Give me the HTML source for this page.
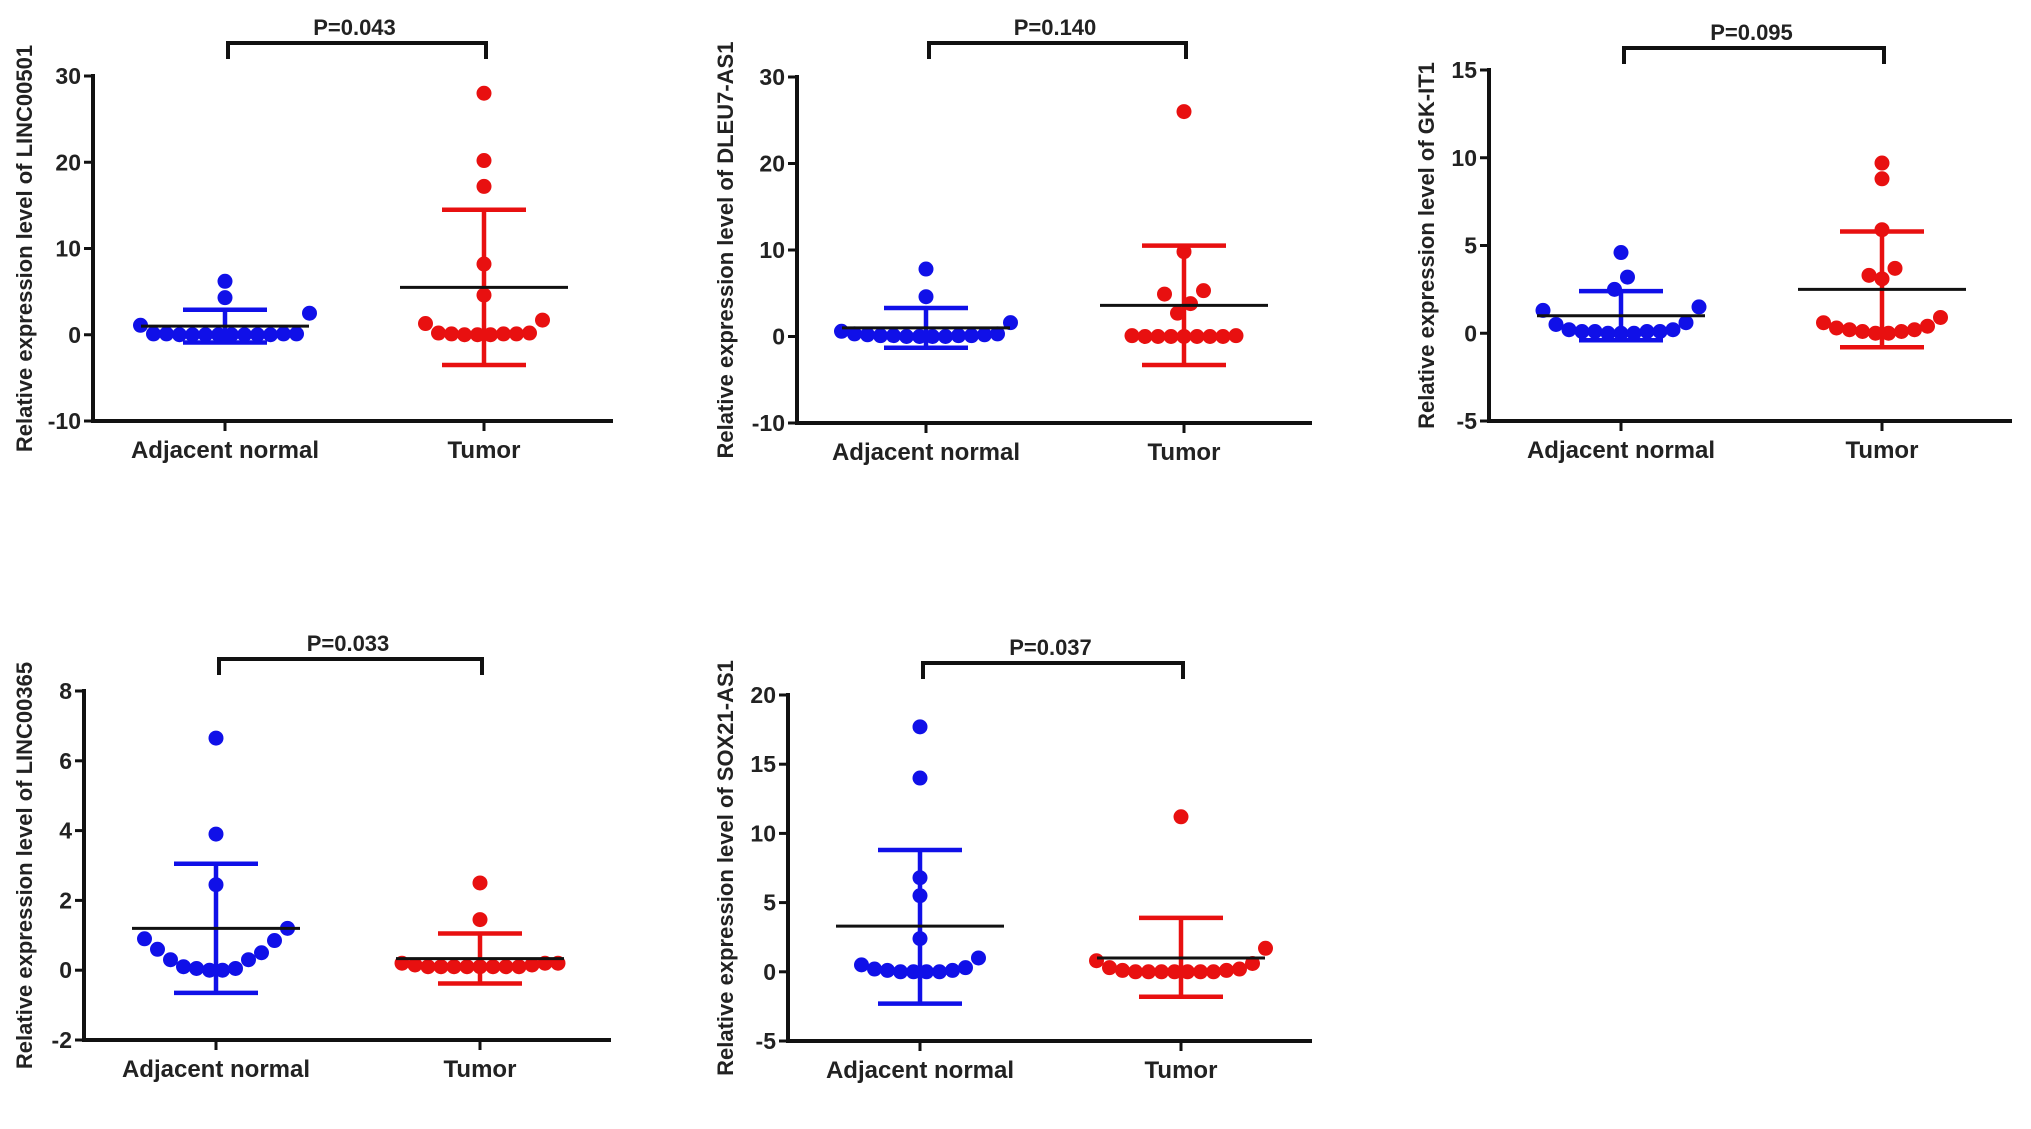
<!DOCTYPE html>
<html><head><meta charset="utf-8"><style>
html,body{margin:0;padding:0;background:#fff;}
svg{display:block;font-family:"Liberation Sans",Arial,sans-serif;font-weight:bold;}
</style></head><body>
<svg id="fig" width="2031" height="1129" viewBox="0 0 2031 1129" xmlns="http://www.w3.org/2000/svg"></svg>
<script>
const categories = ["Adjacent normal", "Tumor"];
// Panel 1: LINC00501
const p1Normal = [6.2,4.3,2.5,1.1,0.1,0.1,0.0,0.0,0.0,0.0,0.0,0.0,0.0,0.0,0.1,0.1];
const p1Tumor = [28,20.2,17.2,8.2,4.6,1.3,1.7,0.2,0.1,0.1,0.0,0.0,0.0,0.1,0.2];
const p1Stats = [1.0,2.9,-0.9, 5.5,14.5,-3.5];
const p1Ticks = [-10,0,10,20,30];
// Panel 2: DLEU7-AS1
const p2Normal = [7.8,4.6,1.6,0.6,0.3,0.2,0.1,0.1,0.0,0.0,0.0,0.0,0.1,0.1,0.2,0.3];
const p2Tumor = [26,9.8,5.3,4.9,3.8,2.7,0.1,0.1,0.0,0.0,0.0,0.0,0.0,0.0,0.0];
const p2Stats = [1.0,3.3,-1.3, 3.6,10.5,-3.3];
const p2Ticks = [-10,0,10,20,30];
// Panel 3: GK-IT1
const p3Normal = [4.6,3.2,2.5,1.5,1.3,0.6,0.5,0.2,0.1,0.1,0.0,0.0,0.0,0.1,0.1,0.2];
const p3Tumor = [9.7,8.8,5.9,3.7,3.3,3.1,0.9,0.6,0.4,0.3,0.2,0.1,0.0,0.0,0.1,0.2];
const p3Stats = [1.0,2.4,-0.4, 2.5,5.8,-0.8];
const p3Ticks = [-5,0,5,10,15];
// Panel 4: LINC00365
const p4Normal = [6.65,3.9,2.45,1.2,0.9,0.85,0.6,0.5,0.3,0.3,0.1,0.05,0.0,0.0,0.05];
const p4Tumor = [2.5,1.45,0.2,0.15,0.1,0.1,0.1,0.1,0.1,0.1,0.1,0.1,0.15,0.2,0.2];
const p4Stats = [1.2,3.05,-0.65, 0.33,1.05,-0.38];
const p4Ticks = [-2,0,2,4,6,8];
// Panel 5: SOX21-AS1
const p5Normal = [17.7,14,6.8,5.5,2.4,1.0,0.5,0.2,0.1,0.0,0.0,0.0,0.0,0.1,0.3];
const p5Tumor = [11.2,1.7,0.8,0.6,0.3,0.1,0.0,0.0,0.0,0.0,0.0,0.0,0.0,0.1,0.2];
const p5Stats = [3.3,8.8,-2.3, 1.0,3.9,-1.8];
const p5Ticks = [-5,0,5,10,15,20];
const pValues = ["P=0.043","P=0.140","P=0.095","P=0.033","P=0.037"];
const genes = ["LINC00501","DLEU7-AS1","GK-IT1","LINC00365","SOX21-AS1"];

const NS = "http://www.w3.org/2000/svg";
const svg = document.getElementById("fig");
function mk(tag, attrs, parent){
  const e = document.createElementNS(NS, tag);
  for (const k in attrs) e.setAttribute(k, attrs[k]);
  (parent||svg).appendChild(e);
  return e;
}
const layouts = [
  {ax:93, right:613, top:76, bottom:421, cx:[225,484], lx:24, by:43, name:"linc00501"},
  {ax:797, right:1312, top:77, bottom:423, cx:[926,1184], lx:725, by:43, name:"dleu7-as1"},
  {ax:1489, right:2012, top:70, bottom:421, cx:[1621,1882], lx:1426, by:48, name:"gk-it1"},
  {ax:84, right:611, top:691, bottom:1040, cx:[216,480], lx:24, by:659, name:"linc00365"},
  {ax:788, right:1312, top:695, bottom:1041, cx:[920,1181], lx:725, by:663, name:"sox21-as1"}
];
const panelData = [
  [p1Normal,p1Tumor,p1Stats,p1Ticks],
  [p2Normal,p2Tumor,p2Stats,p2Ticks],
  [p3Normal,p3Tumor,p3Stats,p3Ticks],
  [p4Normal,p4Tumor,p4Stats,p4Ticks],
  [p5Normal,p5Tumor,p5Stats,p5Ticks]
];
const colors = ["#1010e8","#e81010"];
const R = 7.5, SP = 13;

function swarm(vals, y, cx){
  const pts = vals.map(v => ({v, y:y(v)})).sort((a,b)=>a.y-b.y);
  const bins = [];
  pts.forEach(p => {
    const b = bins[bins.length-1];
    if (b && p.y - b[b.length-1].y < 2*R - 1) b.push(p); else bins.push([p]);
  });
  bins.forEach(b => {
    b.sort((a,c)=>a.v-c.v);
    const n = b.length;
    const slots = [];
    for (let i=0;i<n;i++) slots.push(i-(n-1)/2);
    slots.sort((a,c)=>Math.abs(a)-Math.abs(c) || a-c);
    b.forEach((p,i)=>{ p.x = cx + slots[i]*SP; });
  });
  return pts;
}

layouts.forEach((L, pi) => {
  const [nv, tv, st, ticks] = panelData[pi];
  const g = mk("g", {});
  
  
  const ymin = ticks[0], ymax = ticks[ticks.length-1];
  const y = v => L.bottom - (v - ymin)/(ymax - ymin)*(L.bottom - L.top);
  const ya = mk("line", {x1:L.ax, y1:L.top-2, x2:L.ax, y2:L.bottom+2, stroke:"#111", "stroke-width":4}, g);
  
  
  const xa = mk("line", {x1:L.ax-2, y1:L.bottom, x2:L.right, y2:L.bottom, stroke:"#111", "stroke-width":4}, g);
  
  
  ticks.forEach(t => {
    const yy = y(t);
    const tk = mk("line", {x1:L.ax-9, y1:yy, x2:L.ax, y2:yy, stroke:"#111", "stroke-width":3}, g);
    
    
    const tl = mk("text", {x:L.ax-12, y:yy+8, "text-anchor":"end", "font-size":23, fill:"#222"}, g);
    tl.textContent = t;
    
    
  });
  categories.forEach((c, ci) => {
    const tk = mk("line", {x1:L.cx[ci], y1:L.bottom, x2:L.cx[ci], y2:L.bottom+10, stroke:"#111", "stroke-width":3}, g);
    
    
    const tl = mk("text", {x:L.cx[ci], y:L.bottom+37, "text-anchor":"middle", "font-size":24, fill:"#222"}, g);
    tl.textContent = c;
    
    
  });
  const mid = (L.top + L.bottom)/2;
  const yl = mk("text", {x:0, y:0, transform:`translate(${L.lx+8},${mid}) rotate(-90)`, "text-anchor":"middle", "font-size":22, fill:"#222"}, g);
  yl.textContent = "Relative expression level of " + genes[pi];
  
  
  const br = mk("path", {d:`M${L.cx[0]+3},${L.by+16} V${L.by} H${L.cx[1]+2} V${L.by+16}`, fill:"none", stroke:"#111", "stroke-width":4}, g);
  
  
  const pt = mk("text", {x:(L.cx[0]+L.cx[1])/2, y:L.by-8, "text-anchor":"middle", "font-size":22, fill:"#222"}, g);
  pt.textContent = pValues[pi];
  
  
  [nv, tv].forEach((vals, gi) => {
    const cx = L.cx[gi], col = colors[gi];
    const mean = st[gi*3], hi = st[gi*3+1], lo = st[gi*3+2];
    const pts = swarm(vals, y, cx);
    pts.forEach(p => {
      const c = mk("circle", {cx:p.x, cy:p.y, r:R, fill:col}, g);
      
      
    });
    const eb = mk("path", {d:`M${cx},${y(lo)} V${y(hi)} M${cx-42},${y(hi)} H${cx+42} M${cx-42},${y(lo)} H${cx+42}`, fill:"none", stroke:col, "stroke-width":4.5}, g);
    
    
    const ml = mk("line", {x1:cx-84, y1:y(mean), x2:cx+84, y2:y(mean), stroke:"#111", "stroke-width":3}, g);
    
    
  });
});
</script>
</body></html>
